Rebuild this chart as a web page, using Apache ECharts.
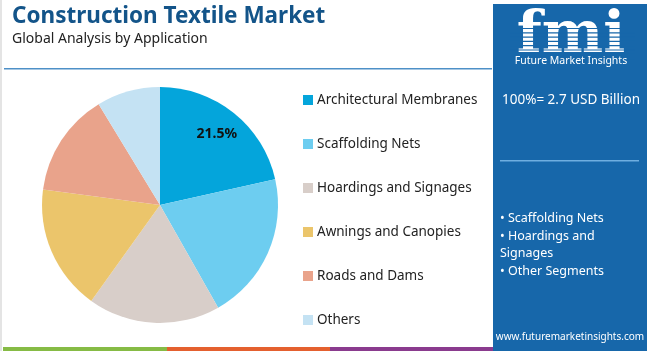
<html>
<meta http-equiv="Content-Type" content="text/html; charset=UTF-8">
<script type="text/javascript" src="https://cdn.jsdelivr.net/npm/echarts@6/dist/echarts.min.js"></script>
<body style="margin:0">
<div id="chart" style="height:351px;width:650px;"></div>
<script type="text/javascript">
// data
var categories = ["Architectural Membranes", "Scaffolding Nets", "Hoardings and Signages", "Awnings and Canopies", "Roads and Dams", "Others"];
var shares = [21.5, 20.3, 18.1, 17.2, 14.2, 8.7];
var colors = ["#04A5DB", "#6DCDF0", "#D8CEC9", "#EBC56B", "#E9A38B", "#C4E2F3"];
var labelled = [true, false, false, false, false, false];
var totalText = "100%= 2.7 USD Billion";
var bullets = ["• Scaffolding Nets", "• Hoardings and", "Signages", "• Other Segments"];

var font = "Noto Sans";
var panelBlue = "#1767AA";

var pieData = categories.map(function (c, i) {
  return { name: c, value: shares[i], itemStyle: { color: colors[i] } };
});
var labelData = categories.map(function (c, i) {
  return {
    name: c, value: shares[i],
    label: { show: labelled[i], formatter: shares[i].toFixed(1) + "%" }
  };
});

var graphics = [
  // left frame line
  { type: "rect", shape: { x: 0, y: 0, width: 2, height: 351 }, style: { fill: "#E4E4E4" } },
  { type: "text", left: 12, top: 5, style: { text: "Construction Textile Market", font: "bold 22.5px " + font, fill: "#135489" } },
  { type: "text", left: 12, top: 32, style: { text: "Global Analysis by Application", font: "14px " + font, fill: "#222" } },
  { type: "rect", shape: { x: 4, y: 68, width: 488, height: 1.5 }, style: { fill: "#4E90C7" } },
  // right panel
  { type: "rect", shape: { x: 493, y: 4, width: 154, height: 347 }, style: { fill: panelBlue } },
  { type: "text", x: 571, y: 8, style: { text: "fmi", font: "bold 58px 'DejaVu Serif'", fill: "#fff", align: "center" } },
  { type: "group", children: [3, 4, 5, 6, 7, 8, 9, 10].map(function (k) {
      return { type: "rect", shape: { x: 510, y: 15 + k * 4.3, width: 125, height: 1.2 }, style: { fill: panelBlue } };
    }) },
  { type: "text", x: 571, y: 56, style: { text: "Future Market Insights", font: "10.5px " + font, fill: "#fff", align: "center" } },
  { type: "text", x: 502, y: 93, style: { text: totalText, font: "13.5px " + font, fill: "#fff" } },
  { type: "rect", shape: { x: 500, y: 160, width: 139, height: 1.5 }, style: { fill: "#6FAEE0" } },
  { type: "text", x: 500, y: 210, style: { text: bullets.join("\n"), font: "12.5px " + font, fill: "#fff", lineHeight: 17.5 } },
  { type: "text", x: 570, y: 332, style: { text: "www.futuremarketinsights.com", font: "10px " + font, fill: "#fff", align: "center" } },
  // bottom strip
  { type: "rect", shape: { x: 3, y: 347, width: 164, height: 4 }, style: { fill: "#86BB45" } },
  { type: "rect", shape: { x: 167, y: 347, width: 163, height: 4 }, style: { fill: "#E4602F" } },
  { type: "rect", shape: { x: 330, y: 347, width: 163, height: 4 }, style: { fill: "#8A3B8E" } }
];

var myChart = echarts.init(document.getElementById("chart"));
myChart.setOption({
  animation: false,
  backgroundColor: "#fff",
  legend: {
    orient: "vertical",
    left: 298, top: 88,
    itemWidth: 10, itemHeight: 10, itemGap: 30,
    icon: "rect",
    textStyle: { fontFamily: font, fontSize: 13.5, color: "#222", padding: [0, 0, 0, -1] },
    data: categories
  },
  graphic: graphics,
  series: [
    {
      type: "pie",
      center: [160, 205], radius: 118,
      startAngle: 90, clockwise: true,
      label: { show: false }, labelLine: { show: false },
      emphasis: { disabled: true },
      data: pieData
    },
    {
      // invisible ring used only to place the percentage label
      type: "pie",
      center: [160, 205], radius: [0, 176],
      startAngle: 90, clockwise: true, silent: true,
      itemStyle: { color: "rgba(0,0,0,0)" },
      label: { position: "inside", fontFamily: font, fontSize: 14, fontWeight: "bold", color: "#111" },
      labelLine: { show: false },
      emphasis: { disabled: true },
      legendHoverLink: false,
      data: labelData
    }
  ]
});
</script>
</body>
</html>
